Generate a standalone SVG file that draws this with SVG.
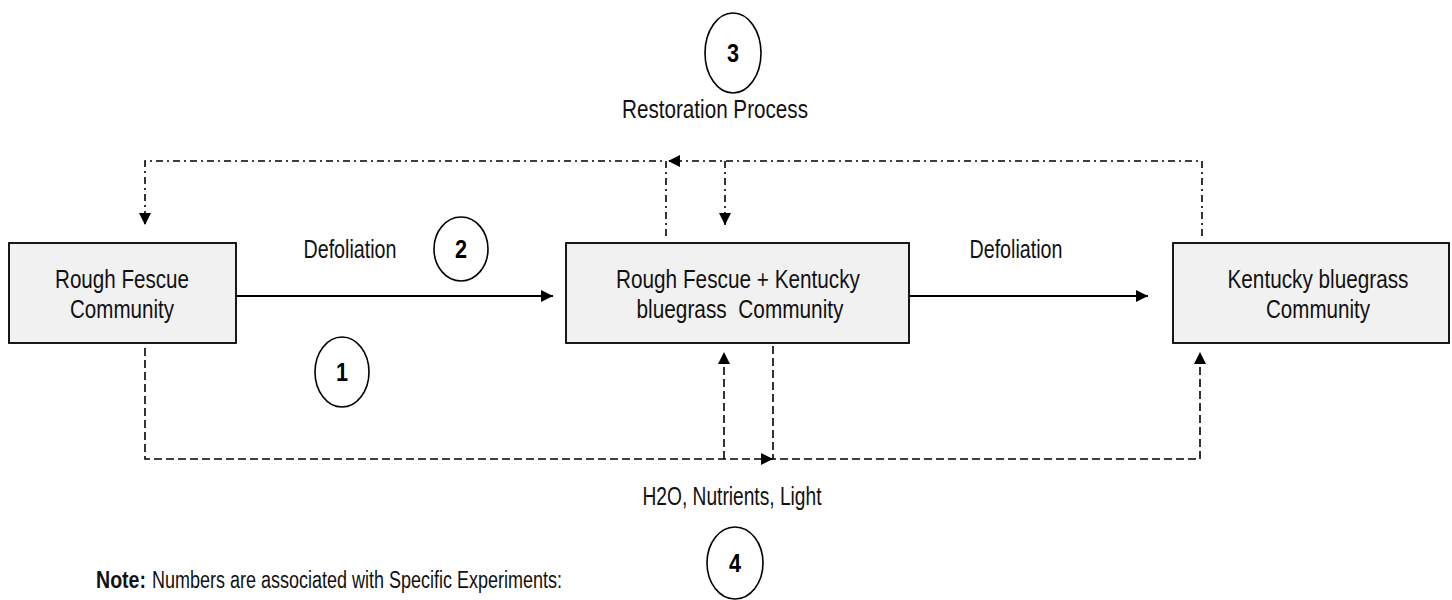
<svg xmlns="http://www.w3.org/2000/svg" width="1452" height="600" viewBox="0 0 1452 600">
<defs>
<style>
.box{fill:#f1f1f1;stroke:#000;stroke-width:1.8}
.t{font-family:"Liberation Sans",Arial,sans-serif;font-size:25px;fill:#111;text-anchor:middle}
.n{font-family:"Liberation Sans",Arial,sans-serif;font-weight:bold;font-size:25px;fill:#000;text-anchor:middle}
.note{font-family:"Liberation Sans",Arial,sans-serif;font-size:23px;fill:#111}
.c{fill:#fff;stroke:#000;stroke-width:1.6}
.solid{fill:none;stroke:#000;stroke-width:2}
.dd{fill:none;stroke:#000;stroke-width:1.6;stroke-dasharray:7 4 2 4}
.da{fill:none;stroke:#000;stroke-width:1.6;stroke-dasharray:8 4}
</style>
<marker id="ah" viewBox="0 0 10 10" refX="10" refY="5" markerWidth="12" markerHeight="12" markerUnits="userSpaceOnUse" orient="auto"><path d="M0,0 L10,5 L0,10 z" fill="#000"/></marker>
</defs>
<rect width="1452" height="600" fill="#fff"/>
<g id="connectors">
<path class="solid" d="M236,296 H553" marker-end="url(#ah)"/>
<path class="solid" d="M909,296 H1148" marker-end="url(#ah)"/>
<path class="dd" d="M1202,236 V161 H668" marker-end="url(#ah)"/>
<path class="dd" d="M666,236 V161 H145 V225" marker-end="url(#ah)"/>
<path class="dd" d="M725,161 V225" marker-end="url(#ah)"/>
<path class="da" d="M145,348 V459 H773" marker-end="url(#ah)"/>
<path class="da" d="M773,346 V459 H1200 V352" marker-end="url(#ah)"/>
<path class="da" d="M724,459 V352" marker-end="url(#ah)"/>
</g>
<g id="node-rough-fescue">
<rect class="box" x="9" y="243" width="227" height="100"/>
<text class="t" x="122" y="288" textLength="134" lengthAdjust="spacingAndGlyphs">Rough Fescue</text>
<text class="t" x="122" y="318" textLength="104" lengthAdjust="spacingAndGlyphs">Community</text>
</g>
<g id="node-mixed">
<rect class="box" x="566" y="243" width="343" height="100"/>
<text class="t" x="738" y="288" textLength="244" lengthAdjust="spacingAndGlyphs">Rough Fescue + Kentucky</text>
<text class="t" x="740" y="318" textLength="207" lengthAdjust="spacingAndGlyphs">bluegrass&#160; Community</text>
</g>
<g id="node-kentucky">
<rect class="box" x="1173" y="243" width="276" height="100"/>
<text class="t" x="1318" y="288" textLength="181" lengthAdjust="spacingAndGlyphs">Kentucky bluegrass</text>
<text class="t" x="1318" y="318" textLength="104" lengthAdjust="spacingAndGlyphs">Community</text>
</g>
<g id="labels">
<text class="t" x="350" y="258" textLength="93" lengthAdjust="spacingAndGlyphs">Defoliation</text>
<text class="t" x="1016" y="258" textLength="93" lengthAdjust="spacingAndGlyphs">Defoliation</text>
<text class="t" x="715" y="118" textLength="186" lengthAdjust="spacingAndGlyphs">Restoration Process</text>
<text class="t" x="732" y="505" textLength="179" lengthAdjust="spacingAndGlyphs">H2O, Nutrients, Light</text>
<text class="note" x="96" y="588" font-weight="bold" textLength="50" lengthAdjust="spacingAndGlyphs">Note:</text>
<text class="note" x="152" y="588" textLength="410" lengthAdjust="spacingAndGlyphs">Numbers are associated with Specific Experiments:</text>
</g>
<g id="circle-1"><ellipse class="c" cx="342" cy="372" rx="27" ry="35"/><text class="n" x="342" y="381" textLength="12" lengthAdjust="spacingAndGlyphs">1</text></g>
<g id="circle-2"><ellipse class="c" cx="461" cy="249" rx="27" ry="32"/><text class="n" x="461" y="258" textLength="12" lengthAdjust="spacingAndGlyphs">2</text></g>
<g id="circle-3"><ellipse class="c" cx="733" cy="53" rx="28" ry="40"/><text class="n" x="733" y="62" textLength="12" lengthAdjust="spacingAndGlyphs">3</text></g>
<g id="circle-4"><ellipse class="c" cx="735" cy="563" rx="28" ry="36"/><text class="n" x="735" y="572" textLength="12" lengthAdjust="spacingAndGlyphs">4</text></g>
</svg>
